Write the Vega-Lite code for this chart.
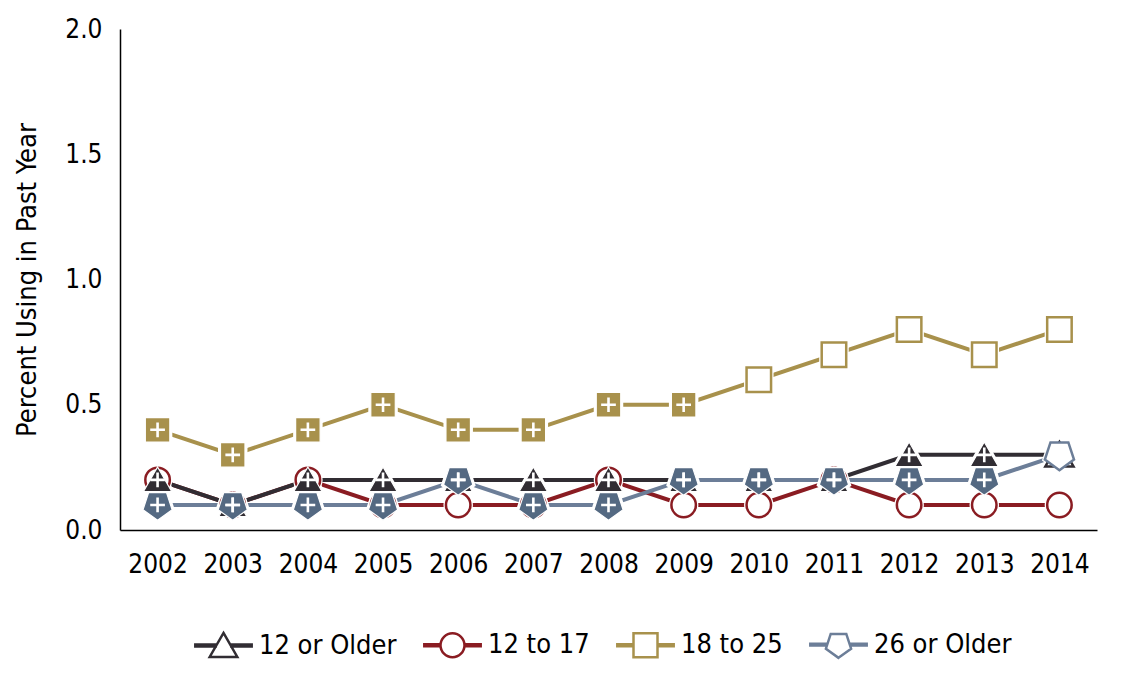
{
  "$schema": "https://vega.github.io/schema/vega-lite/v6.json",
  "width": 977,
  "height": 501,
  "padding": {"left": 13, "top": 16, "right": 30, "bottom": 5},
  "config": {
    "font": "DejaVu Sans Condensed",
    "view": {"stroke": null},
    "axis": {
      "labelFont": "DejaVu Sans Condensed",
      "titleFont": "DejaVu Sans Condensed",
      "labelColor": "#000000",
      "titleColor": "#000000",
      "domainColor": "#000000",
      "domainWidth": 1.5,
      "ticks": false,
      "grid": false
    },
    "legend": {
      "labelFont": "DejaVu Sans Condensed",
      "labelFontSize": 27,
      "labelColor": "#000000"
    }
  },
  "resolve": {"scale": {"shape": "independent", "stroke": "independent"}},
  "data": {
    "values": [
      {"year": "2002", "series": "18 to 25", "value": 0.4, "sig": true},
      {"year": "2003", "series": "18 to 25", "value": 0.3, "sig": true},
      {"year": "2004", "series": "18 to 25", "value": 0.4, "sig": true},
      {"year": "2005", "series": "18 to 25", "value": 0.5, "sig": true},
      {"year": "2006", "series": "18 to 25", "value": 0.4, "sig": true},
      {"year": "2007", "series": "18 to 25", "value": 0.4, "sig": true},
      {"year": "2008", "series": "18 to 25", "value": 0.5, "sig": true},
      {"year": "2009", "series": "18 to 25", "value": 0.5, "sig": true},
      {"year": "2010", "series": "18 to 25", "value": 0.6, "sig": false},
      {"year": "2011", "series": "18 to 25", "value": 0.7, "sig": false},
      {"year": "2012", "series": "18 to 25", "value": 0.8, "sig": false},
      {"year": "2013", "series": "18 to 25", "value": 0.7, "sig": false},
      {"year": "2014", "series": "18 to 25", "value": 0.8, "sig": false},
      {"year": "2002", "series": "12 to 17", "value": 0.2, "sig": false},
      {"year": "2003", "series": "12 to 17", "value": 0.1, "sig": false},
      {"year": "2004", "series": "12 to 17", "value": 0.2, "sig": false},
      {"year": "2005", "series": "12 to 17", "value": 0.1, "sig": false},
      {"year": "2006", "series": "12 to 17", "value": 0.1, "sig": false},
      {"year": "2007", "series": "12 to 17", "value": 0.1, "sig": false},
      {"year": "2008", "series": "12 to 17", "value": 0.2, "sig": false},
      {"year": "2009", "series": "12 to 17", "value": 0.1, "sig": false},
      {"year": "2010", "series": "12 to 17", "value": 0.1, "sig": false},
      {"year": "2011", "series": "12 to 17", "value": 0.2, "sig": false},
      {"year": "2012", "series": "12 to 17", "value": 0.1, "sig": false},
      {"year": "2013", "series": "12 to 17", "value": 0.1, "sig": false},
      {"year": "2014", "series": "12 to 17", "value": 0.1, "sig": false},
      {"year": "2002", "series": "12 or Older", "value": 0.2, "sig": true},
      {"year": "2003", "series": "12 or Older", "value": 0.1, "sig": true},
      {"year": "2004", "series": "12 or Older", "value": 0.2, "sig": true},
      {"year": "2005", "series": "12 or Older", "value": 0.2, "sig": true},
      {"year": "2006", "series": "12 or Older", "value": 0.2, "sig": true},
      {"year": "2007", "series": "12 or Older", "value": 0.2, "sig": true},
      {"year": "2008", "series": "12 or Older", "value": 0.2, "sig": true},
      {"year": "2009", "series": "12 or Older", "value": 0.2, "sig": true},
      {"year": "2010", "series": "12 or Older", "value": 0.2, "sig": true},
      {"year": "2011", "series": "12 or Older", "value": 0.2, "sig": true},
      {"year": "2012", "series": "12 or Older", "value": 0.3, "sig": true},
      {"year": "2013", "series": "12 or Older", "value": 0.3, "sig": true},
      {"year": "2014", "series": "12 or Older", "value": 0.3, "sig": false},
      {"year": "2002", "series": "26 or Older", "value": 0.1, "sig": true},
      {"year": "2003", "series": "26 or Older", "value": 0.1, "sig": true},
      {"year": "2004", "series": "26 or Older", "value": 0.1, "sig": true},
      {"year": "2005", "series": "26 or Older", "value": 0.1, "sig": true},
      {"year": "2006", "series": "26 or Older", "value": 0.2, "sig": true},
      {"year": "2007", "series": "26 or Older", "value": 0.1, "sig": true},
      {"year": "2008", "series": "26 or Older", "value": 0.1, "sig": true},
      {"year": "2009", "series": "26 or Older", "value": 0.2, "sig": true},
      {"year": "2010", "series": "26 or Older", "value": 0.2, "sig": true},
      {"year": "2011", "series": "26 or Older", "value": 0.2, "sig": true},
      {"year": "2012", "series": "26 or Older", "value": 0.2, "sig": true},
      {"year": "2013", "series": "26 or Older", "value": 0.2, "sig": true},
      {"year": "2014", "series": "26 or Older", "value": 0.3, "sig": false}
    ]
  },
  "encoding": {
    "x": {
      "field": "year",
      "type": "ordinal",
      "scale": {"type": "point", "padding": 0.5},
      "axis": {"title": null, "labelAngle": 0, "labelFontSize": 26, "labelPadding": 21}
    },
    "y": {
      "field": "value",
      "type": "quantitative",
      "scale": {"domain": [0, 2]},
      "axis": {
        "title": "Percent Using in Past Year",
        "values": [0, 0.5, 1, 1.5, 2],
        "format": ".1f",
        "labelFontSize": 26,
        "labelPadding": 18,
        "titleFontSize": 27,
        "titleFontWeight": "normal",
        "titlePadding": 23
      }
    }
  },
  "layer": [
    {
      "mark": {"type": "line", "strokeWidth": 4},
      "encoding": {
        "color": {
          "field": "series",
          "type": "nominal",
          "scale": {
            "domain": ["12 or Older", "12 to 17", "18 to 25", "26 or Older"],
            "range": ["#312d33", "#8a1c22", "#a8914c", "#6c7e98"]
          },
          "legend": null
        }
      }
    },
    {
      "mark": {"type": "point", "filled": true, "size": 600, "strokeWidth": 5, "color": "white", "fill": "white", "stroke": "white", "opacity": 1},
      "encoding": {
        "shape": {
          "field": "series",
          "type": "nominal",
          "scale": {
            "domain": ["12 or Older", "12 to 17", "18 to 25", "26 or Older"],
            "range": ["M0,-1.05L1.15,0.95L-1.15,0.95Z", "circle", "square", "M0,1.25L1.19,0.39L0.73,-1.01L-0.73,-1.01L-1.19,0.39Z"]
          },
          "legend": null
        }
      }
    },
    {
      "mark": {"type": "point", "size": 600, "opacity": 1},
      "encoding": {
        "shape": {
          "field": "series",
          "type": "nominal",
          "scale": {
            "domain": ["12 or Older", "12 to 17", "18 to 25", "26 or Older"],
            "range": ["M0,-1.05L1.15,0.95L-1.15,0.95Z", "circle", "square", "M0,1.25L1.19,0.39L0.73,-1.01L-0.73,-1.01L-1.19,0.39Z"]
          },
          "legend": null
        },
        "fill": {
          "field": "series",
          "type": "nominal",
          "scale": {
            "domain": ["12 or Older", "12 to 17", "18 to 25", "26 or Older"],
            "range": ["#312d33", "#8a1c22", "#a8914c", "#546982"]
          },
          "legend": null,
          "condition": {"test": "!datum.sig", "value": "white"}
        },
        "stroke": {
          "field": "series",
          "type": "nominal",
          "scale": {
            "domain": ["12 or Older", "12 to 17", "18 to 25", "26 or Older"],
            "range": ["#312d33", "#8a1c22", "#a8914c", "#6c7e98"]
          },
          "legend": null,
          "condition": {"test": "datum.sig", "value": "white"}
        },
        "strokeWidth": {"condition": {"test": "datum.sig", "value": 1.2}, "value": 2.5}
      }
    },
    {
      "transform": [{"filter": "datum.sig"}],
      "mark": {"type": "point", "shape": "M-0.6,0H0.6M0,-0.6V0.6", "size": 600, "stroke": "white", "strokeWidth": 2.6, "fill": null, "opacity": 1},
      "encoding": {}
    },
    {
      "transform": [{"filter": "datum.value < 0"}],
      "mark": {"type": "point", "size": 576, "strokeWidth": 2.5, "fill": "white", "filled": false, "opacity": 1},
      "encoding": {
        "shape": {
          "field": "series",
          "type": "nominal",
          "scale": {
            "domain": ["12 or Older", "12 to 17", "18 to 25", "26 or Older"],
            "range": [
              "M-2.35,-0.08H-0.65V0.08H-2.35ZM0.65,-0.08H2.35V0.08H0.65ZM0,-1.05L1.15,0.95L-1.15,0.95Z",
              "M-2.35,-0.08H-1.05V0.08H-2.35ZM1.05,-0.08H2.35V0.08H1.05ZM1,0A1,1 0 1,1 -1,0A1,1 0 1,1 1,0Z",
              "M-2.35,-0.08H-1.05V0.08H-2.35ZM1.05,-0.08H2.35V0.08H1.05ZM-1,-1H1V1H-1Z",
              "M-2.35,-0.08H-1V0.08H-2.35ZM1,-0.08H2.35V0.08H1ZM0,1.1L1.05,0.34L0.65,-0.89L-0.65,-0.89L-1.05,0.34Z"
            ]
          },
          "legend": {
            "title": null,
            "orient": "none",
            "legendX": 90,
            "legendY": 602,
            "direction": "horizontal",
            "symbolSize": 576,
            "symbolStrokeWidth": 2.5,
            "symbolFillColor": "white",
            "labelOffset": 22,
            "columnPadding": 22
          }
        },
        "stroke": {
          "field": "series",
          "type": "nominal",
          "scale": {
            "domain": ["12 or Older", "12 to 17", "18 to 25", "26 or Older"],
            "range": ["#312d33", "#8a1c22", "#a8914c", "#6c7e98"]
          },
          "legend": {
            "title": null,
            "orient": "none",
            "legendX": 90,
            "legendY": 602,
            "direction": "horizontal",
            "symbolSize": 576,
            "symbolStrokeWidth": 2.5,
            "symbolFillColor": "white",
            "labelOffset": 22,
            "columnPadding": 22
          }
        }
      }
    }
  ]
}
